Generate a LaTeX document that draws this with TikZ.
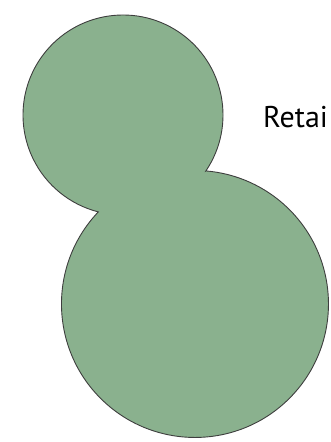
\documentclass[tikz,border=0pt]{standalone}
\usepackage{fontspec}
\setmainfont{PT Sans}
\usepackage{tikz}
\usetikzlibrary{calc}
\definecolor{blobgreen}{HTML}{8AB18E}
\definecolor{blobline}{HTML}{3E3E3E}

\begin{document}
\begin{tikzpicture}[
  x=1pt, y=1pt,
  blob/.style={fill=blobgreen, draw=blobline, line width=0.9pt, line join=miter},
  lbl/.style={font=\fontsize{30}{35}\selectfont, text=black, inner sep=0pt, anchor=base west},
]
\useasboundingbox (0,0) rectangle (331,-442);
% upper circle: centre (123,-115), r 100; lower circle: centre (195,-304), r 133.5
\coordinate (top) at (123,-115);
\coordinate (bot) at (195,-304);
\coordinate (pr) at ($(top)+(-34.0:100)$);
\draw[blob] (pr) arc[start angle=-34.0, end angle=255.7, radius=100]
  arc[start angle=136.4, end angle=445.3, radius=133.5] -- cycle;
\node[lbl] (retail) at (263,-127.5) {Retai};
\end{tikzpicture}
\end{document}
